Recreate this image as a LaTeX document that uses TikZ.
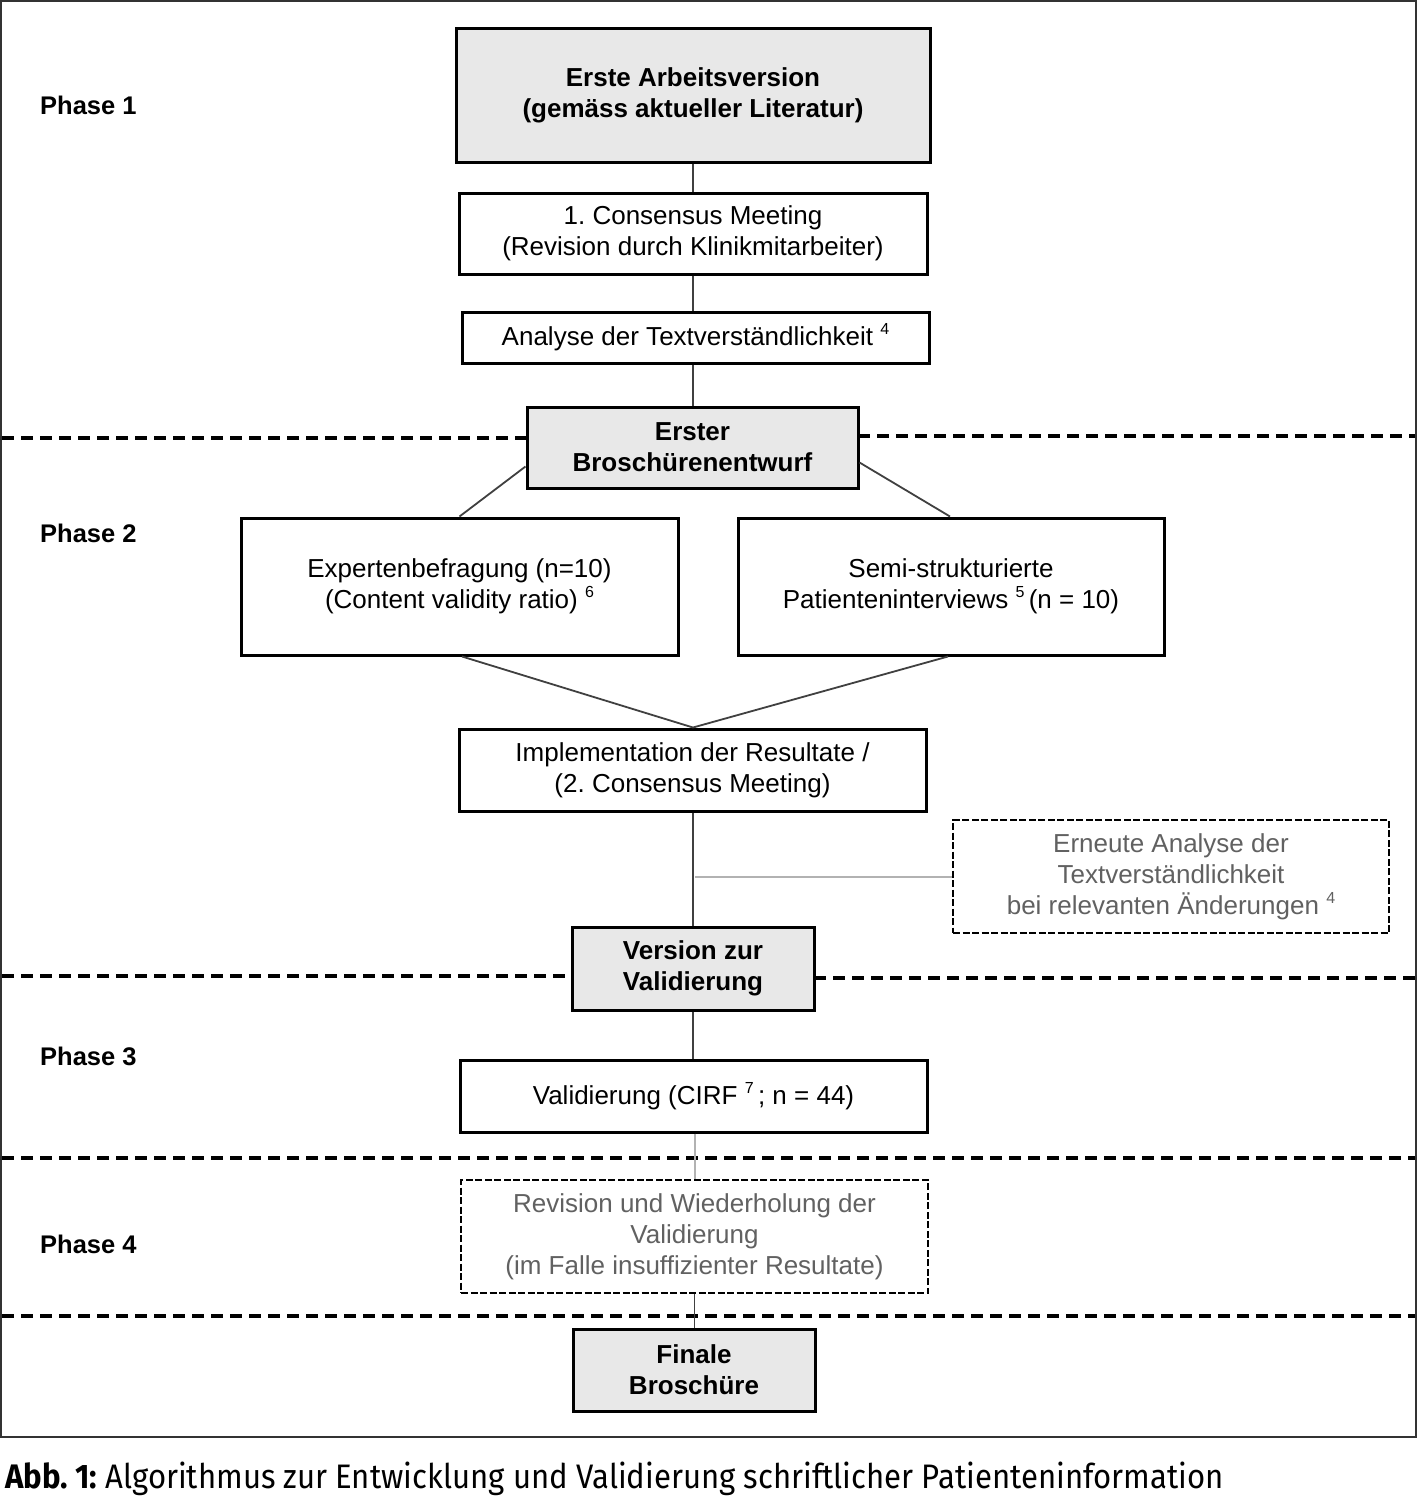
\documentclass[tikz,border=0pt]{standalone}
\usepackage{fontspec}
\setmainfont{Liberation Sans}
\newfontfamily\capfont{Fira Sans}[FakeStretch=0.915]
\newcommand\hoch[1]{\raisebox{0.42em}{\fontsize{16}{16}\selectfont #1}}
\frenchspacing
\begin{document}
\begin{tikzpicture}[x=1pt,y=-1pt,
  every node/.style={font=\fontsize{26}{31}\selectfont, align=center, inner sep=0pt},
  box/.style={draw=black, line width=3pt, fill=white},
  graybox/.style={box, fill=black!9},
  dbox/.style={draw=black, line width=2.2pt, dash pattern=on 7pt off 2.5pt, fill=white, text=black!62},
  phase/.style={anchor=west, font=\fontsize{25.5}{30}\selectfont\bfseries},
  conn/.style={draw=black!75, line width=1.8pt},
  lconn/.style={draw=black!30, line width=2pt},
  sep/.style={draw=black, line width=3.2pt, dash pattern=on 12pt off 7pt}]
\useasboundingbox (0,0) rectangle (1417,1505);
\fill[white] (0,0) rectangle (1417,1505);
\draw[black!80, line width=2pt] (1,1) rectangle (1416,1437);

% phase separators
\draw[sep] (2,438) -- (527,438);
\draw[sep] (858,436) -- (1415,436);
\draw[sep] (2,976) -- (572,976);
\draw[sep] (814,978) -- (1415,978);
\draw[sep] (2,1158) -- (1415,1158);
\draw[sep] (2,1316) -- (1415,1316);

% phase labels
\node[phase] (p1) at (40,105) {Phase 1};
\node[phase] (p2) at (40,533) {Phase 2};
\node[phase] (p3) at (40,1056) {Phase 3};
\node[phase] (p4) at (40,1244) {Phase 4};

% boxes
\node[graybox, minimum width=474, minimum height=134] (b1) at (693,95) {\textbf{Erste Arbeitsversion}\\\textbf{(gemäss aktueller Literatur)}};
\node[box, minimum width=468, minimum height=81] (b2) at (693,233.5) {1. Consensus Meeting\\(Revision durch Klinikmitarbeiter)};
\node[box, minimum width=467, minimum height=51] (b3) at (695.5,337.5) {Analyse der Textverständlichkeit \hoch{4}};
\node[graybox, minimum width=331, minimum height=81] (b4) at (692.5,447.5) {\textbf{Erster}\\\textbf{Broschürenentwurf}};
\node[box, minimum width=437, minimum height=137] (b5) at (459.5,586.5) {Expertenbefragung (n=10)\\(Content validity ratio) \hoch{6}};
\node[box, minimum width=426, minimum height=137] (b6) at (951,586.5) {Semi-strukturierte\\Patienteninterviews \hoch{5}\,(n = 10)};
\node[box, minimum width=467, minimum height=82] (b7) at (692.5,770) {Implementation der Resultate /\\(2. Consensus Meeting)};
\node[dbox, minimum width=436, minimum height=113] (b8) at (1171,876.5) {Erneute Analyse der\\Textverständlichkeit\\bei relevanten Änderungen \hoch{4}};
\node[graybox, minimum width=242, minimum height=83] (b9) at (693,968.5) {\textbf{Version zur}\\\textbf{Validierung}};
\node[box, minimum width=467, minimum height=72] (b10) at (693.5,1096) {Validierung (CIRF \hoch{7}\,; n = 44)};
\node[dbox, minimum width=467, minimum height=113] (b11) at (694.5,1236.5) {Revision und Wiederholung der\\Validierung\\(im Falle insuffizienter Resultate)};
\node[graybox, minimum width=242, minimum height=82] (b12) at (694,1370) {\textbf{Finale}\\\textbf{Broschüre}};

% connectors
\draw[conn] (b1.south) -- (b2.north);
\draw[conn] (b2.south) -- (b2.south |- b3.north);
\draw[conn] (b3.south -| b1.south) -- (b4.north -| b1.south);
\draw[conn] ([yshift=-19pt]b4.west) -- (b5.north);
\draw[conn] ([yshift=-15pt]b4.east) -- ([xshift=-1pt]b6.north);
\draw[conn] ([xshift=2.5pt]b5.south) -- ([xshift=0.5pt]b7.north);
\draw[conn] ([xshift=-3pt]b6.south) -- ([xshift=0.5pt]b7.north);
\coordinate (j) at (b9.north |- b8.west);
\draw[conn] (b7.south -| b9.north) -- (b9.north);
\draw[lconn] ([xshift=2pt]j) -- (b8.west);
\draw[conn] (b9.south) -- (b10.north -| b9.south);
\draw[lconn] (b10.south -| b11.north) -- (b11.north);
\draw[conn] (b11.south) -- (b12.north -| b11.south);

% caption
\node[anchor=base west, font=\capfont\fontsize{34}{40}\selectfont] (cap) at (5,1488) {\textbf{Abb. 1:} Algorithmus zur Entwicklung und Validierung schriftlicher Patienteninformation};
\end{tikzpicture}
\end{document}
